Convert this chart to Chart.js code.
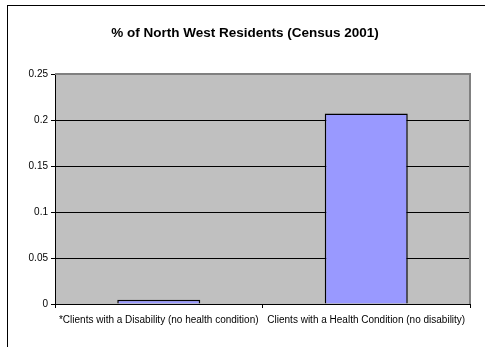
<!DOCTYPE html>
<html>
<head>
<meta charset="utf-8">
<script src="https://cdn.jsdelivr.net/npm/chart.js@4/dist/chart.umd.min.js"></script>
<style>
  html, body { margin: 0; padding: 0; background: #fff; }
  #wrap { width: 485px; height: 347px; }
</style>
</head>
<body>
<div id="wrap"><canvas id="chart" width="485" height="347"></canvas></div>
<script>
const titleText = '% of North West Residents (Census 2001)';
const categories = [
  '*Clients with a Disability (no health condition)',
  'Clients with a Health Condition (no disability)'
];
const residentShare = [0.0045, 0.207];
const yTickLabels = ['0', '0.05', '0.1', '0.15', '0.2', '0.25'];

const FONT = 'Liberation Sans, Arial, sans-serif';

// Excel-ish frame: white page, outer border, grey plot area, centred title
const framePlugin = {
  id: 'frame',
  beforeDraw(chart) {
    const c = chart.ctx;
    c.save();
    c.fillStyle = '#fff';
    c.fillRect(0, 0, chart.width, chart.height);
    c.strokeStyle = '#000';
    c.lineWidth = 1;
    c.strokeRect(7.5, 5.5, chart.width + 10, chart.height + 10);
    const a = chart.chartArea;
    c.fillStyle = '#c0c0c0';
    c.fillRect(a.left, a.top, a.right - a.left, a.bottom - a.top);
    c.fillStyle = '#000';
    c.font = 'bold 13.5px ' + FONT;
    c.textAlign = 'center';
    c.textBaseline = 'middle';
    c.fillText(titleText, 245, 33);
    c.restore();
  },
  afterDatasetsDraw(chart) {
    const c = chart.ctx;
    const a = chart.chartArea;
    c.save();
    c.strokeStyle = '#808080';
    c.lineWidth = 2;
    c.beginPath();
    c.moveTo(a.left, a.top);
    c.lineTo(a.right, a.top);
    c.lineTo(a.right, a.bottom);
    c.stroke();
    c.restore();
  }
};

const ctx = document.getElementById('chart').getContext('2d');
new Chart(ctx, {
  type: 'bar',
  data: {
    labels: categories,
    datasets: [{
      data: residentShare,
      backgroundColor: '#9999ff',
      borderColor: '#000',
      borderWidth: 1.5,
      barPercentage: 0.4,
      categoryPercentage: 1
    }]
  },
  options: {
    responsive: false,
    animation: false,
    layout: { padding: { top: 74, right: 15, bottom: 0, left: 0 } },
    plugins: {
      legend: { display: false },
      tooltip: { enabled: false },
      title: { display: false }
    },
    scales: {
      x: {
        offset: true,
        grid: {
          offset: true,
          drawOnChartArea: false,
          drawTicks: true,
          tickLength: 4,
          tickColor: '#000'
        },
        border: { color: '#000', width: 1 },
        ticks: {
          color: '#000',
          font: { family: FONT, size: 10 },
          padding: 6,
          maxRotation: 0,
          autoSkip: false
        },
        afterFit(scale) { scale.height = 43; }
      },
      y: {
        min: 0,
        max: 0.25,
        ticks: {
          stepSize: 0.05,
          color: '#000',
          font: { family: FONT, size: 10 },
          padding: 3,
          callback: (v, i) => yTickLabels[i]
        },
        grid: {
          color: (c) => c.index === yTickLabels.length - 1 ? 'rgba(0,0,0,0)' : '#000',
          tickColor: '#000',
          tickLength: 4,
          lineWidth: 1
        },
        border: { color: '#000', width: 1 },
        afterFit(scale) { scale.width = 55; }
      }
    }
  },
  plugins: [framePlugin]
});
</script>
</body>
</html>
